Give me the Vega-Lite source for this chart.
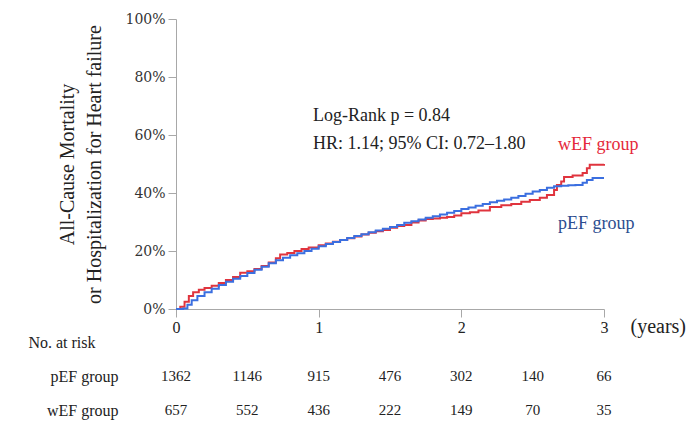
{
  "$schema": "https://vega.github.io/schema/vega-lite/v6.json",
  "background": "white",
  "padding": {"left": 27, "top": 12, "right": 5, "bottom": 5},
  "bounds": "flush",
  "spacing": 33,
  "config": {
    "view": {"stroke": null},
    "font": "Liberation Serif"
  },
  "datasets": {
    "km": [
      {"group": "pEF group", "t": 0, "risk": 0},
      {"group": "pEF group", "t": 0.05, "risk": 0.002},
      {"group": "pEF group", "t": 0.08, "risk": 0.015},
      {"group": "pEF group", "t": 0.11, "risk": 0.03},
      {"group": "pEF group", "t": 0.15, "risk": 0.045},
      {"group": "pEF group", "t": 0.2, "risk": 0.058},
      {"group": "pEF group", "t": 0.25, "risk": 0.07},
      {"group": "pEF group", "t": 0.3, "risk": 0.083},
      {"group": "pEF group", "t": 0.35, "risk": 0.094},
      {"group": "pEF group", "t": 0.4, "risk": 0.104},
      {"group": "pEF group", "t": 0.45, "risk": 0.114},
      {"group": "pEF group", "t": 0.5, "risk": 0.124},
      {"group": "pEF group", "t": 0.55, "risk": 0.135},
      {"group": "pEF group", "t": 0.6, "risk": 0.146},
      {"group": "pEF group", "t": 0.65, "risk": 0.158},
      {"group": "pEF group", "t": 0.7, "risk": 0.168},
      {"group": "pEF group", "t": 0.75, "risk": 0.177},
      {"group": "pEF group", "t": 0.8, "risk": 0.185},
      {"group": "pEF group", "t": 0.85, "risk": 0.192},
      {"group": "pEF group", "t": 0.9, "risk": 0.2},
      {"group": "pEF group", "t": 0.95, "risk": 0.208},
      {"group": "pEF group", "t": 1.0, "risk": 0.216},
      {"group": "pEF group", "t": 1.05, "risk": 0.224},
      {"group": "pEF group", "t": 1.1, "risk": 0.231},
      {"group": "pEF group", "t": 1.15, "risk": 0.238},
      {"group": "pEF group", "t": 1.2, "risk": 0.245},
      {"group": "pEF group", "t": 1.25, "risk": 0.252},
      {"group": "pEF group", "t": 1.3, "risk": 0.258},
      {"group": "pEF group", "t": 1.35, "risk": 0.265},
      {"group": "pEF group", "t": 1.4, "risk": 0.271},
      {"group": "pEF group", "t": 1.45, "risk": 0.277},
      {"group": "pEF group", "t": 1.5, "risk": 0.283},
      {"group": "pEF group", "t": 1.55, "risk": 0.29},
      {"group": "pEF group", "t": 1.6, "risk": 0.297},
      {"group": "pEF group", "t": 1.65, "risk": 0.303},
      {"group": "pEF group", "t": 1.7, "risk": 0.309},
      {"group": "pEF group", "t": 1.75, "risk": 0.315},
      {"group": "pEF group", "t": 1.8, "risk": 0.32},
      {"group": "pEF group", "t": 1.85, "risk": 0.326},
      {"group": "pEF group", "t": 1.9, "risk": 0.332},
      {"group": "pEF group", "t": 1.95, "risk": 0.338},
      {"group": "pEF group", "t": 2.0, "risk": 0.345},
      {"group": "pEF group", "t": 2.05, "risk": 0.35},
      {"group": "pEF group", "t": 2.1, "risk": 0.356},
      {"group": "pEF group", "t": 2.15, "risk": 0.362},
      {"group": "pEF group", "t": 2.2, "risk": 0.368},
      {"group": "pEF group", "t": 2.25, "risk": 0.373},
      {"group": "pEF group", "t": 2.3, "risk": 0.378},
      {"group": "pEF group", "t": 2.35, "risk": 0.384},
      {"group": "pEF group", "t": 2.4, "risk": 0.39},
      {"group": "pEF group", "t": 2.45, "risk": 0.397},
      {"group": "pEF group", "t": 2.5, "risk": 0.405},
      {"group": "pEF group", "t": 2.55, "risk": 0.41},
      {"group": "pEF group", "t": 2.6, "risk": 0.418},
      {"group": "pEF group", "t": 2.65, "risk": 0.423},
      {"group": "pEF group", "t": 2.7, "risk": 0.425},
      {"group": "pEF group", "t": 2.75, "risk": 0.427},
      {"group": "pEF group", "t": 2.8, "risk": 0.428},
      {"group": "pEF group", "t": 2.85, "risk": 0.435},
      {"group": "pEF group", "t": 2.88, "risk": 0.445},
      {"group": "pEF group", "t": 2.92, "risk": 0.452},
      {"group": "pEF group", "t": 3.0, "risk": 0.452},
      {"group": "wEF group", "t": 0, "risk": 0},
      {"group": "wEF group", "t": 0.03, "risk": 0.008},
      {"group": "wEF group", "t": 0.06, "risk": 0.025},
      {"group": "wEF group", "t": 0.09, "risk": 0.045},
      {"group": "wEF group", "t": 0.12, "risk": 0.058},
      {"group": "wEF group", "t": 0.16, "risk": 0.066},
      {"group": "wEF group", "t": 0.2, "risk": 0.072},
      {"group": "wEF group", "t": 0.25, "risk": 0.08},
      {"group": "wEF group", "t": 0.3, "risk": 0.09},
      {"group": "wEF group", "t": 0.35, "risk": 0.1},
      {"group": "wEF group", "t": 0.4, "risk": 0.11},
      {"group": "wEF group", "t": 0.45, "risk": 0.125},
      {"group": "wEF group", "t": 0.5, "risk": 0.13},
      {"group": "wEF group", "t": 0.55, "risk": 0.138},
      {"group": "wEF group", "t": 0.6, "risk": 0.148},
      {"group": "wEF group", "t": 0.65, "risk": 0.16},
      {"group": "wEF group", "t": 0.7, "risk": 0.175},
      {"group": "wEF group", "t": 0.73, "risk": 0.188},
      {"group": "wEF group", "t": 0.78, "risk": 0.193},
      {"group": "wEF group", "t": 0.83, "risk": 0.2},
      {"group": "wEF group", "t": 0.88, "risk": 0.207},
      {"group": "wEF group", "t": 0.93, "risk": 0.212},
      {"group": "wEF group", "t": 1.0, "risk": 0.22},
      {"group": "wEF group", "t": 1.05, "risk": 0.226},
      {"group": "wEF group", "t": 1.1, "risk": 0.232},
      {"group": "wEF group", "t": 1.15, "risk": 0.238},
      {"group": "wEF group", "t": 1.2, "risk": 0.244},
      {"group": "wEF group", "t": 1.25, "risk": 0.25},
      {"group": "wEF group", "t": 1.3, "risk": 0.257},
      {"group": "wEF group", "t": 1.35, "risk": 0.263},
      {"group": "wEF group", "t": 1.4, "risk": 0.268},
      {"group": "wEF group", "t": 1.45, "risk": 0.272},
      {"group": "wEF group", "t": 1.5, "risk": 0.28},
      {"group": "wEF group", "t": 1.55, "risk": 0.286},
      {"group": "wEF group", "t": 1.6, "risk": 0.29},
      {"group": "wEF group", "t": 1.65, "risk": 0.298},
      {"group": "wEF group", "t": 1.7, "risk": 0.305},
      {"group": "wEF group", "t": 1.75, "risk": 0.31},
      {"group": "wEF group", "t": 1.8, "risk": 0.312},
      {"group": "wEF group", "t": 1.85, "risk": 0.315},
      {"group": "wEF group", "t": 1.9, "risk": 0.317},
      {"group": "wEF group", "t": 1.95, "risk": 0.322},
      {"group": "wEF group", "t": 2.0, "risk": 0.33},
      {"group": "wEF group", "t": 2.06, "risk": 0.334},
      {"group": "wEF group", "t": 2.12, "risk": 0.34},
      {"group": "wEF group", "t": 2.2, "risk": 0.352},
      {"group": "wEF group", "t": 2.28, "risk": 0.358},
      {"group": "wEF group", "t": 2.35, "risk": 0.362},
      {"group": "wEF group", "t": 2.42, "risk": 0.37},
      {"group": "wEF group", "t": 2.48, "risk": 0.376},
      {"group": "wEF group", "t": 2.55, "risk": 0.384},
      {"group": "wEF group", "t": 2.6, "risk": 0.393},
      {"group": "wEF group", "t": 2.65, "risk": 0.41},
      {"group": "wEF group", "t": 2.67, "risk": 0.428},
      {"group": "wEF group", "t": 2.7, "risk": 0.44},
      {"group": "wEF group", "t": 2.72, "risk": 0.455},
      {"group": "wEF group", "t": 2.78, "risk": 0.46},
      {"group": "wEF group", "t": 2.85, "risk": 0.469},
      {"group": "wEF group", "t": 2.88, "risk": 0.485},
      {"group": "wEF group", "t": 2.9, "risk": 0.497},
      {"group": "wEF group", "t": 3.0, "risk": 0.5}
    ],
    "stats": [
      {"t": 0.96, "risk": 0.666, "label": "Log-Rank p = 0.84"},
      {"t": 0.96, "risk": 0.569, "label": "HR: 1.14; 95% CI: 0.72–1.80"}
    ],
    "atRisk": [
      {"group": "pEF group", "t": 0, "n": 1362},
      {"group": "pEF group", "t": 0.5, "n": 1146},
      {"group": "pEF group", "t": 1, "n": 915},
      {"group": "pEF group", "t": 1.5, "n": 476},
      {"group": "pEF group", "t": 2, "n": 302},
      {"group": "pEF group", "t": 2.5, "n": 140},
      {"group": "pEF group", "t": 3, "n": 66},
      {"group": "wEF group", "t": 0, "n": 657},
      {"group": "wEF group", "t": 0.5, "n": 552},
      {"group": "wEF group", "t": 1, "n": 436},
      {"group": "wEF group", "t": 1.5, "n": 222},
      {"group": "wEF group", "t": 2, "n": 149},
      {"group": "wEF group", "t": 2.5, "n": 70},
      {"group": "wEF group", "t": 3, "n": 35}
    ]
  },
  "vconcat": [
    {
      "width": 428,
      "height": 290,
      "layer": [
        {
          "data": {"name": "km"},
          "transform": [{"filter": "datum.group == 'wEF group'"}],
          "mark": {"type": "line", "interpolate": "step-after", "strokeWidth": 2, "color": "#e0343e"},
          "encoding": {
            "x": {
              "field": "t", "type": "quantitative",
              "scale": {"domain": [0, 3], "nice": false, "zero": false},
              "axis": {
                "values": [0, 0.5, 1, 1.5, 2, 2.5, 3],
                "format": "d",
                "labelExpr": "datum.value % 1 == 0 ? datum.label : ''",
                "labelFlush": false,
                "labelOverlap": false,
                "grid": false,
                "domainColor": "#a8a8a8",
                "tickColor": "#a8a8a8",
                "tickSize": {"condition": {"test": "datum.value % 1 == 0", "value": 8}, "value": 4},
                "labelPadding": 2,
                "labelFont": "Liberation Serif",
                "labelFontSize": 16,
                "labelColor": "#222",
                "title": "(years)",
                "titleFont": "Liberation Serif",
                "titleFontSize": 20,
                "titleFontWeight": "normal",
                "titleColor": "#222",
                "titleAlign": "left",
                "titleBaseline": "middle",
                "titleX": 454,
                "titleY": 17
              }
            },
            "y": {
              "field": "risk", "type": "quantitative",
              "scale": {"domain": [0, 1], "nice": false},
              "axis": {
                "values": [0, 0.1, 0.2, 0.3, 0.4, 0.5, 0.6, 0.7, 0.8, 0.9, 1],
                "format": ".0%",
                "labelExpr": "round(datum.value * 10) % 2 == 0 ? datum.label : ''",
                "labelOverlap": false,
                "grid": false,
                "domainColor": "#a8a8a8",
                "tickColor": "#a8a8a8",
                "tickSize": {"condition": {"test": "round(datum.value * 10) % 2 == 0", "value": 8}, "value": 5},
                "labelPadding": 3,
                "labelFont": "DejaVu Serif",
                "labelFontSize": 14,
                "labelColor": "#333",
                "title": ["All-Cause Mortality", "or Hospitalization for Heart failure"],
                "titleFont": "Liberation Serif",
                "titleFontSize": 20,
                "titleFontWeight": "normal",
                "titleColor": "#222",
                "titleLineHeight": 27,
                "titlePadding": 20
              }
            }
          }
        },
        {
          "data": {"name": "km"},
          "transform": [{"filter": "datum.group == 'pEF group'"}],
          "mark": {"type": "line", "interpolate": "step-after", "strokeWidth": 2, "color": "#3b6fe0"},
          "encoding": {
            "x": {"field": "t", "type": "quantitative"},
            "y": {"field": "risk", "type": "quantitative"}
          }
        },
        {
          "data": {"name": "stats"},
          "mark": {"type": "text", "align": "left", "baseline": "middle", "font": "Liberation Serif", "fontSize": 18, "color": "#222"},
          "encoding": {
            "x": {"field": "t", "type": "quantitative"},
            "y": {"field": "risk", "type": "quantitative"},
            "text": {"field": "label"}
          }
        },
        {
          "data": {"values": [{"t": 2.677, "risk": 0.566, "label": "wEF group"}]},
          "mark": {"type": "text", "align": "left", "baseline": "middle", "font": "Liberation Serif", "fontSize": 18, "color": "#e5283a"},
          "encoding": {
            "x": {"field": "t", "type": "quantitative"},
            "y": {"field": "risk", "type": "quantitative"},
            "text": {"field": "label"}
          }
        },
        {
          "data": {"values": [{"t": 2.677, "risk": 0.293, "label": "pEF group"}]},
          "mark": {"type": "text", "align": "left", "baseline": "middle", "font": "Liberation Serif", "fontSize": 18, "color": "#2c4d8f"},
          "encoding": {
            "x": {"field": "t", "type": "quantitative"},
            "y": {"field": "risk", "type": "quantitative"},
            "text": {"field": "label"}
          }
        }
      ]
    },
    {
      "width": 428,
      "height": 68,
      "data": {"name": "atRisk"},
      "mark": {"type": "text", "baseline": "middle", "font": "Liberation Serif", "fontSize": 15, "color": "#222"},
      "encoding": {
        "x": {
          "field": "t", "type": "quantitative",
          "scale": {"domain": [0, 3], "nice": false, "zero": false},
          "axis": null
        },
        "y": {
          "field": "group", "type": "nominal",
          "scale": {"type": "point", "domain": ["No. at risk", "pEF group", "wEF group"], "padding": 0},
          "axis": {
            "title": null,
            "domain": false,
            "ticks": false,
            "labelFont": "Liberation Serif",
            "labelFontSize": 16,
            "labelColor": "#222",
            "labelPadding": {"condition": {"test": "datum.value == 'No. at risk'", "value": 81}, "value": 58}
          }
        },
        "text": {"field": "n", "type": "quantitative", "format": "d"}
      }
    }
  ]
}
